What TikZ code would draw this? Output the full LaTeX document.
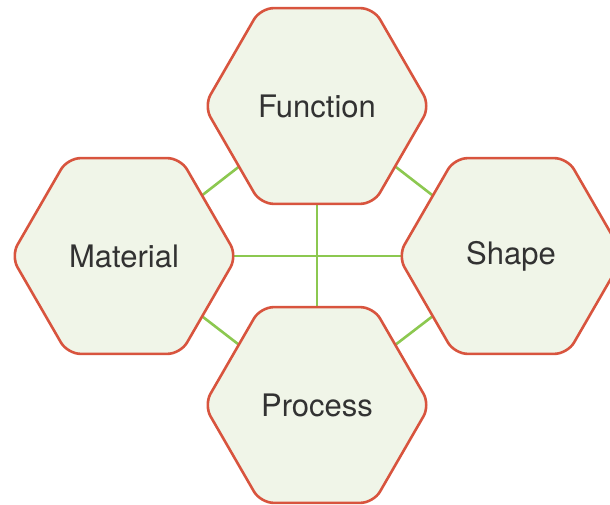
\documentclass[tikz,border=0pt]{standalone}
\usepackage{fontspec}
\setmainfont{TeX Gyre Heros}
\usetikzlibrary{shapes.geometric,backgrounds}
\definecolor{hexfill}{RGB}{240,245,232}
\definecolor{hexline}{RGB}{216,84,62}
\definecolor{linkcol}{RGB}{140,200,80}
\definecolor{txt}{RGB}{50,50,50}
\begin{document}
\begin{tikzpicture}[x=1pt,y=-1pt,
  hexnode/.style={regular polygon, regular polygon sides=6, minimum size=226pt,
    inner sep=0pt, outer sep=0pt, draw=hexline, line width=2.6pt, fill=hexfill,
    rounded corners=13pt, font=\fontsize{31}{36}\selectfont, text=txt},
  linkline/.style={draw=linkcol, line width=2.6pt}]
\useasboundingbox (0,0) rectangle (610,505);
\node[hexnode] (fun) at (317,106) {Function};
\node[hexnode] (mat) at (124,256) {Material};
\node[hexnode] (sha) at (511,256) {Shape};
\node[hexnode] (pro) at (317,405) {Process};
\begin{scope}[on background layer]
\draw[linkline] (mat.center) -- (sha.center);
\draw[linkline] (fun.center) -- (pro.center);
\draw[linkline] (mat.center) -- (fun.center);
\draw[linkline] (fun.center) -- (sha.center);
\draw[linkline] (sha.center) -- (pro.center);
\draw[linkline] (pro.center) -- (mat.center);
\end{scope}
\end{tikzpicture}
\end{document}
